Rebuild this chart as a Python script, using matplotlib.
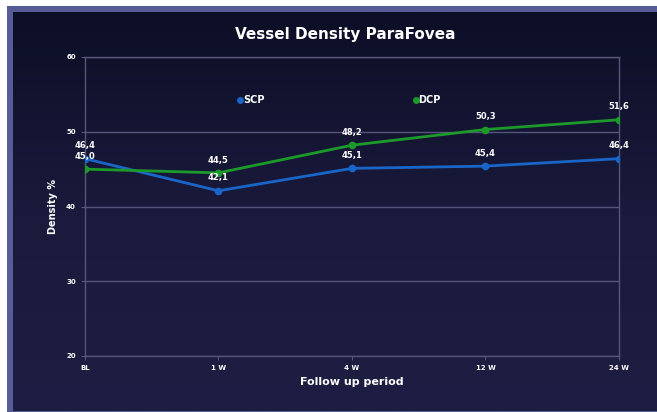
import numpy as np
import matplotlib.pyplot as plt
from matplotlib.lines import Line2D
from matplotlib.patches import Rectangle
from matplotlib.colors import LinearSegmentedColormap

periods = ["BL", "1 W", "4 W", "12 W", "24 W"]
scp = [46.4, 42.1, 45.1, 45.4, 46.4]
dcp = [45.0, 44.5, 48.2, 50.3, 51.6]
scp_labels = ["46,4", "42,1", "45,1", "45,4", "46,4"]
dcp_labels = ["45,0", "44,5", "48,2", "50,3", "51,6"]

blue = "#1a66c8"
green = "#1c9a2a"
grid_col = "#56567a"

fig = plt.figure(figsize=(6.57, 4.12), dpi=100, facecolor="white")

# lavender frame + dark gradient panel
fig.patches.append(Rectangle((7 / 657, 0), 1, 406 / 412, transform=fig.transFigure,
                             facecolor="#575c98", edgecolor="none", zorder=-5))
bg = fig.add_axes([13 / 657, 1 / 412, 644 / 657, 399 / 412], zorder=0)
grad = np.linspace(0, 1, 256).reshape(-1, 1)
cmap = LinearSegmentedColormap.from_list("bg", ["#0c0f26", "#1a1a3c", "#1e1e44"])
bg.imshow(grad, aspect="auto", cmap=cmap, extent=[0, 1, 0, 1])
bg.axis("off")

ax = fig.add_axes([85 / 657, 1 - 356 / 412, 534 / 657, 299 / 412], zorder=1)
ax.patch.set_alpha(0)
x = np.arange(len(periods))

ax.plot(x, scp, color=blue, lw=2, marker="o", ms=4.5, zorder=3)
ax.plot(x, dcp, color=green, lw=2, marker="o", ms=4.5, zorder=3)

for i in range(len(x)):
    ax.annotate(scp_labels[i], (x[i], scp[i]), xytext=(0, 6), textcoords="offset points",
                ha="center", va="bottom", color="white", fontsize=6, fontweight="bold")
    ax.annotate(dcp_labels[i], (x[i], dcp[i]), xytext=(0, 6), textcoords="offset points",
                ha="center", va="bottom", color="white", fontsize=6, fontweight="bold")

ax.set_xlim(0, 4)
ax.set_ylim(20, 60)
ax.set_yticks([20, 30, 40, 50, 60])
ax.set_xticks(x)
ax.set_xticklabels(periods)
ax.yaxis.grid(True, color=grid_col, lw=1.0)
for s in ax.spines.values():
    s.set_color(grid_col)
    s.set_linewidth(1.0)
ax.tick_params(colors=grid_col, labelcolor="white", labelsize=5, length=3)
for lab in ax.get_xticklabels() + ax.get_yticklabels():
    lab.set_fontweight("bold")

ax.set_xlabel("Follow up period", color="white", fontsize=8, fontweight="bold", labelpad=4)
ax.set_ylabel("Density %", color="white", fontsize=7, fontweight="bold", labelpad=6)
fig.text(345 / 657, 1 - 34 / 412, "Vessel Density ParaFovea", ha="center", va="center",
         color="white", fontsize=11, fontweight="bold")

handles = [Line2D([], [], color=blue, marker="o", ls="none", ms=4),
           Line2D([], [], color=green, marker="o", ls="none", ms=4)]
leg = ax.legend(handles, ["SCP", "DCP"], ncol=2, frameon=False, loc="center",
                bbox_to_anchor=(0.477, 0.856), columnspacing=15.3, handlelength=0.4,
                handletextpad=0.1, prop={"size": 7, "weight": "bold"})
for t in leg.get_texts():
    t.set_color("white")

fig.savefig("out.png", dpi=100, facecolor="white")
